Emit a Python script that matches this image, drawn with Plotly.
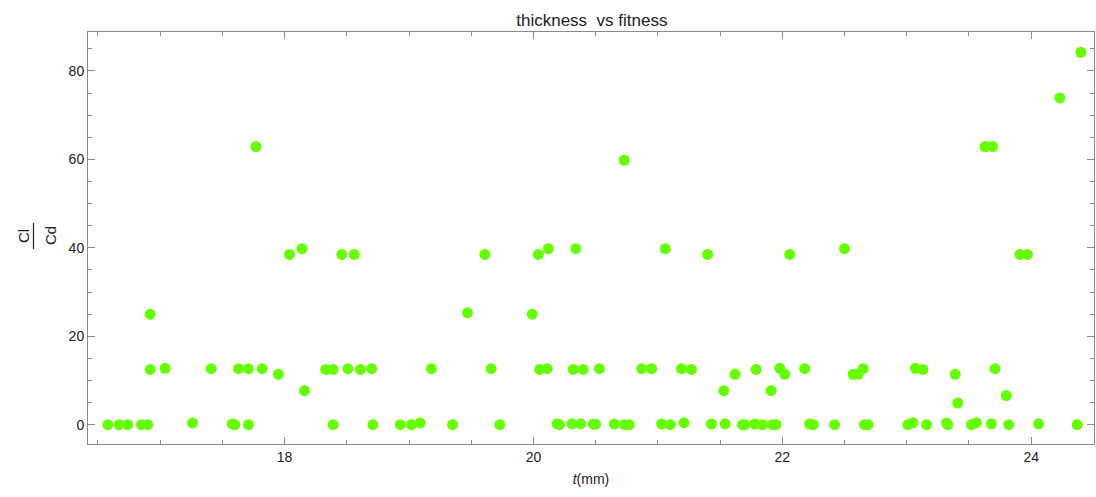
import plotly.graph_objects as go

# thickness t (mm)
t_mm = [16.58, 16.67, 16.74, 16.85, 16.90, 16.92, 16.92, 17.04, 17.26, 17.41,
        17.58, 17.60, 17.63, 17.71, 17.71, 17.77, 17.82, 17.95, 18.04, 18.14,
        18.16, 18.33, 18.39, 18.39, 18.46, 18.51, 18.56, 18.61, 18.70, 18.71,
        18.93, 19.02, 19.09, 19.18, 19.35, 19.47, 19.61, 19.66, 19.73, 19.99,
        20.04, 20.05, 20.11, 20.12, 20.19, 20.21, 20.31, 20.32, 20.34, 20.38,
        20.40, 20.48, 20.50, 20.53, 20.65, 20.73, 20.73, 20.77, 20.87, 20.95,
        21.03, 21.06, 21.10, 21.19, 21.21, 21.27, 21.40, 21.43, 21.53, 21.54,
        21.62, 21.68, 21.70, 21.78, 21.79, 21.84, 21.91, 21.92, 21.95, 21.98,
        22.02, 22.06, 22.18, 22.22, 22.25, 22.42, 22.50, 22.57, 22.61, 22.65,
        22.66, 22.69, 23.01, 23.05, 23.07, 23.13, 23.16, 23.32, 23.33, 23.39,
        23.41, 23.52, 23.56, 23.63, 23.68, 23.69, 23.71, 23.80, 23.82, 23.91,
        23.97, 24.06, 24.23, 24.37, 24.40]

# fitness Cl/Cd
cl_cd = [0, 0, 0, 0, 0, 12.5, 25.0, 12.75, 0.4, 12.67,
         0.15, 0, 12.67, 0, 12.67, 62.9, 12.67, 11.4, 38.5, 39.8,
         7.7, 12.5, 12.5, 0, 38.5, 12.67, 38.5, 12.5, 12.67, 0,
         0, 0, 0.4, 12.67, 0, 25.3, 38.5, 12.67, 0, 25.0,
         38.5, 12.5, 12.67, 39.8, 0.2, 0, 0.2, 12.5, 39.8, 0.2,
         12.5, 0.1, 0.1, 12.67, 0.15, 0, 59.8, 0, 12.67, 12.67,
         0.15, 39.8, 0, 12.67, 0.45, 12.5, 38.5, 0.15, 7.7, 0.2,
         11.4, 0, 0, 0.15, 12.5, 0, 7.7, 0, 0, 12.75,
         11.4, 38.5, 12.67, 0.15, 0, 0, 39.8, 11.4, 11.4, 12.67,
         0, 0, 0, 0.45, 12.75, 12.5, 0, 0.4, 0, 11.4,
         4.9, 0, 0.45, 62.9, 0.2, 62.9, 12.67, 6.6, 0, 38.5,
         38.5, 0.2, 73.9, 0, 84.2]

x_range = [16.42, 24.505]
y_range = [-4.37, 88.8]

FONT = "Liberation Sans, Arial, sans-serif"
AXC = "#8a8a8a"

fig = go.Figure(go.Scatter(
    x=t_mm, y=cl_cd, mode="markers",
    marker=dict(size=11, color="#66ff00", line=dict(width=0)),
    showlegend=False,
))

axis_common = dict(
    showgrid=False, zeroline=False, showline=True, linecolor=AXC, linewidth=1,
    mirror="ticks", ticks="inside", tickcolor=AXC, tickwidth=1, ticklen=7,
    tickfont=dict(family=FONT, size=14, color="#222"),
)

fig.update_xaxes(range=x_range, tickmode="linear", tick0=18, dtick=2,
                 minor=dict(ticks="inside", dtick=0.5, tick0=16.5, ticklen=4,
                            tickcolor=AXC, showgrid=False),
                 title=dict(text="<i>t</i>(mm)", font=dict(family=FONT, size=14, color="#222"),
                            standoff=10),
                 **axis_common)
fig.update_yaxes(range=y_range, tickmode="linear", tick0=0, dtick=20,
                 minor=dict(ticks="inside", dtick=5, tick0=0, ticklen=4,
                            tickcolor=AXC, showgrid=False),
                 **axis_common)

W, H = 1096, 497
l, r, t, b = 88, 2, 32, 53
pw, ph = W - l - r, H - t - b


def px_to_paper(px, py):
    return (px - l) / pw, 1 - (py - t) / ph


cl_x, cl_y = px_to_paper(23, 236)
cd_x, cd_y = px_to_paper(50, 236)
bar_x, bar_y0 = px_to_paper(33.5, 223)
_, bar_y1 = px_to_paper(33.5, 249)

fig.update_layout(
    width=W, height=H, autosize=False,
    margin=dict(l=l, r=r, t=t, b=b),
    paper_bgcolor="white", plot_bgcolor="white",
    title=dict(text="thickness  vs fitness", x=0.54, xanchor="center", y=0.96, yanchor="middle",
               font=dict(family=FONT, size=17, color="#222")),
    annotations=[
        dict(text="Cl", x=cl_x, y=cl_y, xref="paper", yref="paper", showarrow=False,
             xanchor="center", yanchor="middle",
             textangle=-90, font=dict(family=FONT, size=15, color="#222")),
        dict(text="Cd", x=cd_x, y=cd_y, xref="paper", yref="paper", showarrow=False,
             xanchor="center", yanchor="middle",
             textangle=-90, font=dict(family=FONT, size=15, color="#222")),
    ],
)
fig.add_shape(type="line", xref="paper", yref="paper",
              x0=bar_x, x1=bar_x, y0=bar_y0, y1=bar_y1,
              line=dict(color="#222", width=1.2))

fig.write_html("out.html")
